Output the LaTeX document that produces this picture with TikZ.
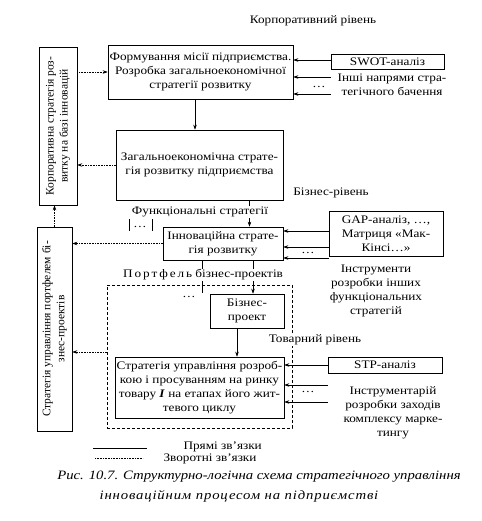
\documentclass[tikz,border=0pt]{standalone}
\usepackage{fontspec}
\setmainfont{Liberation Serif}[FakeStretch=1.15]
\newfontfamily\rotfont{Liberation Serif}
\usepackage{tikz}
\usetikzlibrary{arrows.meta}

\begin{document}
\begin{tikzpicture}[x=1pt,y=-1pt,
    font=\fontsize{11.5}{14}\selectfont,
    >={Stealth[length=5pt,width=3.5pt]},
    box/.style={draw,align=center,inner sep=0pt,line width=0.6pt},
    sidebox/.style={box,rotate=90,font=\rotfont\fontsize{11.5}{14}\selectfont},
    fwd/.style={->,line width=0.5pt},
    back/.style={->,densely dotted,line width=0.6pt},
    label/.style={fill=white,inner sep=1pt}]

    \useasboundingbox (0,0) rectangle (481,521);

    % Levels
    \node (corplevel) at (313,21) {Корпоративний рівень};
    \node (buslevel) at (331,193) {Бізнес-рівень};

    % Corporate level
    \node[box,minimum width=185,minimum height=54] (mission) at (200.5,72)
      {Формування місії підприємства.\\Розробка загальноекономічної\\стратегії розвитку};
    \node[box,minimum width=113,minimum height=15] (swot) at (387.5,62) {SWOT-аналіз};
    \node[align=center] (otherdir) at (392,85) {Інші напрями стра-\\тегічного бачення};
    \node[box,minimum width=167,minimum height=70] (general) at (199.5,165)
      {Загальноекономічна страте-\\гія розвитку підприємства};
    \node[sidebox,minimum width=158,minimum height=38] (corp) at (58,126)
      {Корпоративна стратегія роз-\\витку на базі інновацій};

    % Business level
    \node[box,minimum width=120,minimum height=33] (innov) at (223,243.5)
      {Інноваційна страте-\\гія розвитку};
    \node[box,minimum width=114,minimum height=45] (gap) at (386,233.5)
      {GAP-аналіз, \dots,\\Матриця «Мак-\\Кінсі\dots»};
    \node[align=center] (functools) at (376,291)
      {Інструменти\\розробки інших\\функціональних\\стратегій};
    \node[sidebox,minimum width=204,minimum height=35] (portf) at (54.5,329)
      {Стратегія управління портфелем бі-\\знес-проектів};

    % Portfolio of projects
    \node[draw,densely dashed,line width=0.6pt,minimum width=185,minimum height=143] (frame) at (199.5,356.5) {};
    \node[box,minimum width=74,minimum height=34] (project) at (247,311) {Бізнес-\\проект};

    % Product level
    \node[box,minimum width=169,minimum height=61] (product) at (199.5,387.5)
      {Стратегія управління розроб-\\кою і просуванням на ринку\\товару \textbf{\textit{I}} на етапах його жит-\\тевого циклу};
    \node[box,minimum width=114,minimum height=16] (stp) at (385,365) {STP-аналіз};
    \node[align=center] (mktools) at (393,413)
      {Інструментарій\\розробки заходів\\комплексу марке-\\тингу};

    % Free ends of the inputs
    \coordinate (swotin2) at (331,77);
    \coordinate (swotin3) at (331,94);
    \coordinate (gapin3) at (329,258);
    \coordinate (stpin2) at (328,385);
    \coordinate (stpin3) at (328,402);
    \coordinate (funcA) at (129,219);
    \coordinate (funcB) at (152,219);
    \coordinate (moreproj) at (202,293);

    % Direct links
    \draw[fwd] ([xshift=-5.5pt]mission.south) -- ([xshift=-5.5pt]mission.south |- general.north);
    \draw[fwd] ([xshift=50pt]general.south) -- ([xshift=50pt]general.south |- innov.north);
    \draw[fwd] ([xshift=30pt]innov.south) -- ([xshift=30pt]innov.south |- project.north);
    \draw[line width=0.5pt] ([xshift=-21pt]innov.south) -- (moreproj);
    \draw[fwd] ([xshift=-10pt]project.south) -- ([xshift=-10pt]project.south |- product.north);
    \draw[line width=0.5pt] (funcA) -- ++(0,12);
    \draw[line width=0.5pt] (funcB) -- ++(0,12);

    % Inputs from the tools
    \draw[fwd] ([yshift=2pt]swot.west) -- ([yshift=2pt]swot.west -| mission.east);
    \draw[fwd] (swotin2) -- (swotin2 -| mission.east);
    \draw[fwd] (swotin3) -- (swotin3 -| mission.east);
    \draw[fwd] ([yshift=2.5pt]gap.west) -- ([yshift=2.5pt]gap.west -| innov.east);
    \draw[fwd] ([yshift=-13.5pt]gap.west) -- ([yshift=-13.5pt]gap.west -| innov.east);
    \draw[fwd] (gapin3) -- (gapin3 -| innov.east);
    \draw[fwd] (stp.west) -- (stp.west -| product.east);
    \draw[fwd] (stpin2) -- (stpin2 -| product.east);
    \draw[fwd] (stpin3) -- (stpin3 -| product.east);

    % Feedback links
    \draw[back] (corp.south |- mission.west) -- (mission.west);
    \draw[back] (general.west) -- (general.west -| corp.south);
    \draw[back] (innov.west) -- (innov.west -| portf.south);
    \draw[back] ([yshift=4.5pt]frame.west) -- ([yshift=4.5pt]frame.west -| portf.south);
    \draw[back] (portf.east) -- (portf.east |- corp.west);

    % Dots for the other items
    \node (dotsswot) at (319,87) {\dots};
    \node (dotsgap) at (308,253) {\dots};
    \node (dotsstp) at (308,392) {\dots};
    \node (dotsfunc) at (140,227) {\dots};
    \node (dotsproj) at (189,297) {\dots};

    % Labels over the lines
    \node[label] (funcs) at (200,212) {Функціональні стратегії};
    \node[label] (portlabel) at (203,275) {П\,о\,р\,т\,ф\,е\,л\,ь бізнес-проектів};
    \node[label] (prodlevel) at (315,340) {Товарний рівень};

    % Legend
    \coordinate (solidA) at (93,448);
    \coordinate (solidB) at (147,448);
    \coordinate (dotA) at (95,458);
    \coordinate (dotB) at (143,458);
    \draw[line width=0.5pt] (solidA) -- (solidB);
    \draw[densely dotted,line width=0.6pt] (dotA) -- (dotB);
    \node[anchor=west] (directtxt) at (180,447) {Прямі зв’язки};
    \node[anchor=west] (backtxt) at (160,459) {Зворотні зв’язки};

    % Caption
    \node[font=\fontsize{12.8}{15}\selectfont\itshape] (cap1) at (259,477)
      {Рис. 10.7. Структурно-логічна схема стратегічного управління};
    \node[font=\fontsize{12.8}{15}\selectfont\itshape\addfontfeature{LetterSpace=6.5}] (cap2) at (239,496)
      {інноваційним процесом на підприємстві};
\end{tikzpicture}
\end{document}
